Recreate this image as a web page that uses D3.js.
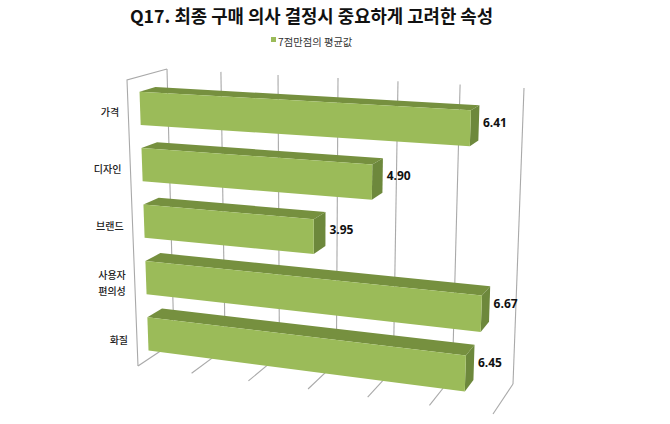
<!DOCTYPE html>
<html><head><meta charset="utf-8">
<script src="https://cdnjs.cloudflare.com/ajax/libs/d3/7.8.5/d3.min.js"></script>
<style>html,body{margin:0;background:#fff}svg{display:block}</style></head><body>
<svg id="c" width="670" height="424"></svg>
<script>
const titleText = "Q17. 최종 구매 의사 결정시 중요하게 고려한 속성";
const legendText = "7점만점의 평균값";
const categories = ["가격","디자인","브랜드","사용자\n편의성","화질"];
const values = [6.41,4.90,3.95,6.67,6.45];
const axisTicks = [1,2,3,4,5,6,7];

const svg = d3.select("#c");
const C = {
  b00:[167,69], b10:[524,88], b01:[174,342], b11:[513,384],
  f00:[127,80], f10:[505,99.5], f01:[138,366], f11:[493,414]
};
const uScale = d3.scaleLinear().domain(axisTicks).range([0,.151,.311,.479,.647,.821,1]);
const vScale = d3.scaleBand().domain(categories).range([.012,1.012]).paddingInner(.41).paddingOuter(.205);
const mix=(a,b,t)=>[a[0]+(b[0]-a[0])*t,a[1]+(b[1]-a[1])*t];
function P(value,v,w){
  const u=uScale(value);
  const back=mix(mix(C.b00,C.b10,u),mix(C.b01,C.b11,u),v);
  const front=mix(mix(C.f00,C.f10,u),mix(C.f01,C.f11,u),v);
  return mix(back,front,w);
}
const line=d3.line();
const gridCol="#a9a9a9";
const g=svg.append("g").attr("fill","none").attr("stroke",gridCol).attr("stroke-width",1.1);
g.selectAll(".w").data(axisTicks).join("path").attr("class","w").attr("d",t=>line([P(t,0,0),P(t,1,0)]));
g.selectAll(".f").data(axisTicks).join("path").attr("class","f").attr("d",t=>line([P(t,1,0),P(t,1,1)]));
g.append("path").attr("d",line([P(1,0,0),P(1,0,1),P(1,1,1)]));

const W0=.30,W1=.70;
const bars=svg.append("g").selectAll("g").data(categories).join("g");
const poly=(sel,fill,fn)=>sel.append("path").attr("fill",fill).attr("d",(c,i)=>line(fn(c,i))+"Z");
const vTop=c=>vScale(c), vBot=c=>vScale(c)+vScale.bandwidth(), vMid=c=>vScale(c)+vScale.bandwidth()/2;
poly(bars,"#76903f",(c,i)=>[P(1,vTop(c),W1),P(values[i],vTop(c),W1),P(values[i],vTop(c),W0),P(1,vTop(c),W0)]);
poly(bars,"#6d883c",(c,i)=>[P(values[i],vTop(c),W1),P(values[i],vBot(c),W1),P(values[i],vBot(c),W0),P(values[i],vTop(c),W0)]);
poly(bars,"#9bbb59",(c,i)=>[P(1,vTop(c),W1),P(values[i],vTop(c),W1),P(values[i],vBot(c),W1),P(1,vBot(c),W1)]);

const font="'Noto Sans CJK KR','Noto Sans',sans-serif";
bars.append("text").attr("font-family","'Open Sans',sans-serif").attr("font-weight",700).attr("font-size",12).attr("fill","#111")
  .attr("x",(c,i)=>P(values[i],vMid(c),W0)[0]+4)
  .attr("y",(c,i)=>P(values[i],vMid(c),W0)[1]+4.5)
  .text((c,i)=>values[i].toFixed(2));

bars.each(function(c){
  const lines=c.split("\n");
  const p=P(1,vMid(c),1);
  const t=d3.select(this).append("text").attr("font-family",font).attr("font-weight",500).attr("font-size",10).attr("fill","#222").attr("text-anchor","end");
  lines.forEach((s,j)=>t.append("tspan").attr("x",p[0]-9).attr("y",p[1]+3.5+(j-(lines.length-1)/2)*16).text(s));
});

svg.append("text").attr("x",311.5).attr("y",23).attr("text-anchor","middle").attr("font-family",font).attr("font-weight",700).attr("font-size",17.8).attr("fill","#111").text(titleText);
svg.append("rect").attr("x",271).attr("y",37).attr("width",5).attr("height",5).attr("fill","#9bbb59");
svg.append("text").attr("x",278).attr("y",46).attr("font-family",font).attr("font-size",10.3).attr("fill","#333").text(legendText);
</script></body></html>
